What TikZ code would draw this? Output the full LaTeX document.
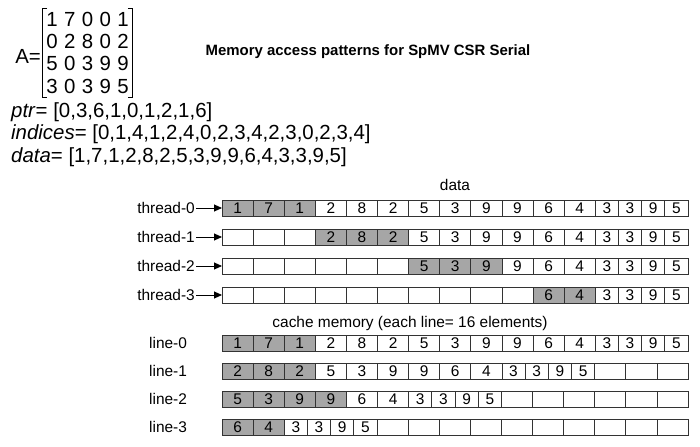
\documentclass[tikz,border=0pt]{standalone}
\usepackage{fontspec}
\setmainfont{Liberation Sans}
\usetikzlibrary{arrows.meta,positioning,matrix}

\tikzset{
  cell/.style={draw=black!80, line width=0.8pt, minimum height=16bp, inner sep=0pt, outer sep=0pt, font=\fontsize{15.5}{15.5}\selectfont},
  wcell/.style={cell, minimum width=31.1bp},
  gcell/.style={wcell, fill=black!35},
  ncell/.style={cell, minimum width=23.2bp},
  lbl/.style={font=\fontsize{15.5}{15.5}\selectfont, inner sep=1bp},
  arrow/.style={-{Triangle[length=8bp,width=7bp]}, line width=0.9pt},
  code/.style={font=\fontsize{20.5}{20.5}\selectfont, anchor=west, inner sep=0pt},
}

% one row of cells, chained from the coordinate #10
\newcommand{\cellrow}[2]{%
  \foreach \s/\v [count=\k, remember=\k as \p (initially 0)] in {#2}
    {\node[\s, right=0pt of #1\p] (#1\k) {\v};}}

\begin{document}
\begin{tikzpicture}[x=1bp, y=-1bp]
    \useasboundingbox (0,0) rectangle (700,447);
    % the matrix A and its CSR arrays
    \matrix (amat) [matrix of nodes, inner xsep=4bp, inner ysep=0pt, column sep=6.4bp,
        nodes={font=\fontsize{20.5}{20.5}\selectfont, inner sep=0pt, minimum height=22bp}] at (87.5,53) {
        1 & 7 & 0 & 0 & 1 \\
        0 & 2 & 8 & 0 & 2 \\
        5 & 0 & 3 & 9 & 9 \\
        3 & 0 & 3 & 9 & 5 \\
    };
    \draw[line width=0.8pt] ([xshift=5bp]amat.north west) -| (amat.south west) -- ++(5,0);
    \draw[line width=0.8pt] ([xshift=-5bp]amat.north east) -| (amat.south east) -- ++(-5,0);
    \node (aeq) [left=1bp of amat, yshift=-3bp, font=\fontsize{20.5}{20.5}\selectfont, inner sep=0pt] {A=};
    \node (title) at (368,52) [font=\bfseries\fontsize{15}{15}\selectfont] {Memory access patterns for SpMV CSR Serial};
    \node (ptr) at (11,112) [code] {\textit{ptr}= [0,3,6,1,0,1,2,1,6]};
    \node (ind) at (11,134.5) [code] {\textit{indices}= [0,1,4,1,2,4,0,2,3,4,2,3,0,2,3,4]};
    \node (dat) at (11,157) [code] {\textit{data}= [1,7,1,2,8,2,5,3,9,9,6,4,3,3,9,5]};

    % data as seen by each thread
    \node (dlab) at (455,185) [lbl] {data};
    \node (thr0) at (196,208) [lbl, anchor=east] {thread-0};
    \node (thr1) at (196,237) [lbl, anchor=east] {thread-1};
    \node (thr2) at (196,266) [lbl, anchor=east] {thread-2};
    \node (thr3) at (196,295) [lbl, anchor=east] {thread-3};
    \coordinate (t0c0) at (222,208);
    \coordinate (t1c0) at (222,237);
    \coordinate (t2c0) at (222,266);
    \coordinate (t3c0) at (222,295);
    \cellrow{t0c}{gcell/1,gcell/7,gcell/1,wcell/2,wcell/8,wcell/2,wcell/5,wcell/3,wcell/9,wcell/9,wcell/6,wcell/4,ncell/3,ncell/3,ncell/9,ncell/5}
    \cellrow{t1c}{wcell/{},wcell/{},wcell/{},gcell/2,gcell/8,gcell/2,wcell/5,wcell/3,wcell/9,wcell/9,wcell/6,wcell/4,ncell/3,ncell/3,ncell/9,ncell/5}
    \cellrow{t2c}{wcell/{},wcell/{},wcell/{},wcell/{},wcell/{},wcell/{},gcell/5,gcell/3,gcell/9,wcell/9,wcell/6,wcell/4,ncell/3,ncell/3,ncell/9,ncell/5}
    \cellrow{t3c}{wcell/{},wcell/{},wcell/{},wcell/{},wcell/{},wcell/{},wcell/{},wcell/{},wcell/{},wcell/{},gcell/6,gcell/4,ncell/3,ncell/3,ncell/9,ncell/5}
    \draw[arrow] (thr0) -- (t0c1);
    \draw[arrow] (thr1) -- (t1c1);
    \draw[arrow] (thr2) -- (t2c1);
    \draw[arrow] (thr3) -- (t3c1);

    % cache lines
    \node (clab) at (410,324) [lbl] {cache memory (each line= 16 elements)};
    \node (line0) at (148,343) [lbl, anchor=west] {line-0};
    \node (line1) at (148,371) [lbl, anchor=west] {line-1};
    \node (line2) at (148,399) [lbl, anchor=west] {line-2};
    \node (line3) at (148,427) [lbl, anchor=west] {line-3};
    \coordinate (l0c0) at (222,343);
    \coordinate (l1c0) at (222,371);
    \coordinate (l2c0) at (222,399);
    \coordinate (l3c0) at (222,427);
    \cellrow{l0c}{gcell/1,gcell/7,gcell/1,wcell/2,wcell/8,wcell/2,wcell/5,wcell/3,wcell/9,wcell/9,wcell/6,wcell/4,ncell/3,ncell/3,ncell/9,ncell/5}
    \cellrow{l1c}{gcell/2,gcell/8,gcell/2,wcell/5,wcell/3,wcell/9,wcell/9,wcell/6,wcell/4,ncell/3,ncell/3,ncell/9,ncell/5,wcell/{},wcell/{},wcell/{}}
    \cellrow{l2c}{gcell/5,gcell/3,gcell/9,gcell/9,wcell/6,wcell/4,ncell/3,ncell/3,ncell/9,ncell/5,wcell/{},wcell/{},wcell/{},wcell/{},wcell/{},wcell/{}}
    \cellrow{l3c}{gcell/6,gcell/4,ncell/3,ncell/3,ncell/9,ncell/5,wcell/{},wcell/{},wcell/{},wcell/{},wcell/{},wcell/{},wcell/{},wcell/{},wcell/{},wcell/{}}
\end{tikzpicture}
\end{document}
